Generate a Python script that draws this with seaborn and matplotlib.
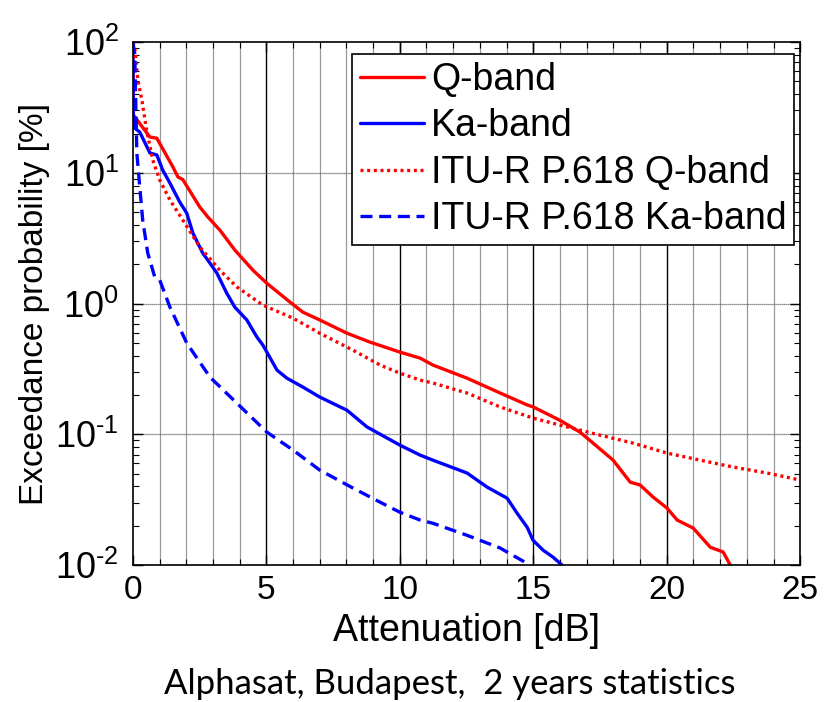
import numpy as np
import pandas as pd
import matplotlib
matplotlib.use("Agg")
import matplotlib.pyplot as plt
import seaborn as sns
from matplotlib.ticker import FixedLocator, LogLocator, NullFormatter, FuncFormatter

# measured Q-band
q_x = [0, 0.02, 0.64, 0.9, 1.5, 1.69, 1.87, 2.51, 2.81, 3.26, 3.82, 4.5, 5.02,
       5.88, 6.37, 7.0, 8.02, 8.88, 10.0, 10.76, 11.24, 12.52, 13.76, 14.77,
       15.0, 16.0, 16.75, 17.24, 17.99, 18.63, 19.0, 19.49, 20.01, 20.39,
       20.99, 21.63, 22.11, 22.38]
q_y = [100, 27.7, 18.8, 18.4, 11.1, 9.3, 8.9, 5.47, 4.6, 3.65, 2.57, 1.8, 1.43,
       1.03, 0.86, 0.75, 0.594, 0.508, 0.426, 0.383, 0.339, 0.269, 0.207,
       0.168, 0.162, 0.128, 0.104, 0.0857, 0.0635, 0.0431, 0.041, 0.0331,
       0.0273, 0.0221, 0.0192, 0.0137, 0.0126, 0.01]

# measured Ka-band
ka_x = [0, 0.02, 0.26, 0.64, 0.9, 1.12, 1.39, 1.76, 2.02, 2.25, 2.62, 2.81,
        3.15, 3.52, 3.82, 4.27, 4.65, 4.87, 5.02, 5.4, 5.77, 6.37, 7.0, 8.02,
        8.77, 10.0, 10.76, 11.24, 12.52, 13.27, 14.02, 14.39, 14.77, 14.99,
        15.37, 15.74, 16.08]
ka_y = [100, 22.4, 20.5, 14.2, 13.7, 10.5, 8.35, 5.97, 4.92, 3.46, 2.43, 2.15,
        1.71, 1.2, 0.94, 0.75, 0.554, 0.482, 0.426, 0.31, 0.269, 0.23, 0.193,
        0.153, 0.114, 0.0828, 0.0694, 0.0635, 0.0506, 0.0395, 0.0325, 0.025,
        0.0195, 0.0155, 0.013, 0.0115, 0.01]

# ITU-R P.618 Q-band
itu_q_x = [0.0, 0.07, 0.19, 0.34, 0.52, 0.75, 1.01, 1.39, 1.87, 2.51, 3.26,
           3.9, 4.87, 6.0, 7.0, 8.25, 9.26, 10.0, 10.76, 11.24, 12.52, 13.76,
           15.0, 16.27, 17.5, 18.74, 20.01, 21.25, 22.49, 23.76, 25.0]
itu_q_y = [100, 91.6, 51, 36, 21, 12.5, 8.8, 6.2, 4.36, 2.71, 1.8, 1.34, 0.975,
           0.774, 0.594, 0.44, 0.339, 0.294, 0.26, 0.247, 0.207, 0.162, 0.133,
           0.114, 0.0986, 0.0857, 0.0719, 0.0635, 0.0562, 0.0506, 0.0447]

# ITU-R P.618 Ka-band
itu_ka_x = [0.0, 0.07, 0.15, 0.26, 0.37, 0.56, 0.82, 1.01, 1.39, 2.02, 2.89,
            3.9, 5.02, 6.0, 7.0, 8.25, 9.26, 10.0, 10.76, 11.24, 12.52, 13.76,
            14.88]
itu_ka_y = [100, 82, 14.2, 7.8, 4.35, 2.43, 1.6, 1.51, 0.94, 0.499, 0.274,
            0.173, 0.104, 0.0759, 0.0533, 0.0388, 0.0303, 0.0254, 0.0221,
            0.0209, 0.0169, 0.0135, 0.01]

series = [
    ("Q-band", q_x, q_y, "#ff0000", "-"),
    ("Ka-band", ka_x, ka_y, "#0000ff", "-"),
    ("ITU-R P.618 Q-band", itu_q_x, itu_q_y, "#ff0000", (0, (0.9, 1.1))),
    ("ITU-R P.618 Ka-band", itu_ka_x, itu_ka_y, "#0000ff", (0, (3.6, 2.0))),
]

sns.set_style("ticks")
plt.rcParams["font.family"] = ["Liberation Sans", "DejaVu Sans"]
plt.rcParams["text.color"] = "black"
plt.rcParams["axes.labelcolor"] = "black"
plt.rcParams["mathtext.fontset"] = "custom"
plt.rcParams["mathtext.rm"] = "Liberation Sans"
plt.rcParams["mathtext.it"] = "Liberation Sans:italic"
plt.rcParams["mathtext.bf"] = "Liberation Sans:bold"

fig = plt.figure(figsize=(8.25, 7.02), dpi=100)
ax = fig.add_axes([0.161, 0.195, 0.809, 0.745])

for name, xs, ys, color, ls in series:
    df = pd.DataFrame({"x": xs, "y": ys})
    sns.lineplot(data=df, x="x", y="y", ax=ax, color=color, linestyle=ls,
                 linewidth=2.4, sort=False, estimator=None, label=name)

ax.set_yscale("log")
ax.set_xlim(0, 25)
ax.set_ylim(1e-2, 1e2)

# grid: gray each dB, black every 5 dB, gray decades
for v in range(1, 25):
    if v % 5 == 0:
        ax.axvline(v, color="black", linewidth=1.0, zorder=0.5)
    else:
        ax.axvline(v, color="#999999", linewidth=0.9, zorder=0.5)
for d in [1e-1, 1e0, 1e1]:
    ax.axhline(d, color="#666666", linewidth=0.9, linestyle=(0, (1, 0.6)),
               zorder=0.5)


def decade_label(v, pos):
    e = int(round(np.log10(v)))
    return r"$10^{\text{%d}}$" % e


ax.xaxis.set_major_locator(FixedLocator([0, 5, 10, 15, 20, 25]))
ax.xaxis.set_minor_locator(FixedLocator(list(range(0, 26))))
ax.yaxis.set_major_locator(LogLocator(base=10, numticks=10))
ax.yaxis.set_major_formatter(FuncFormatter(decade_label))
ax.yaxis.set_minor_locator(LogLocator(base=10, subs=np.arange(2, 10),
                                      numticks=10))
ax.yaxis.set_minor_formatter(NullFormatter())

ax.tick_params(which="both", direction="in", top=True, right=True,
               colors="black")
ax.tick_params(which="major", length=7, width=1)
ax.tick_params(which="minor", length=4, width=0.8)
ax.tick_params(axis="x", pad=7, labelsize=24)
ax.tick_params(axis="y", pad=10, labelsize=26)

for s in ax.spines.values():
    s.set_color("black")
    s.set_linewidth(1.2)
    s.set_visible(True)

ax.set_xlabel("Attenuation [dB]", fontsize=27, labelpad=5)
ax.set_ylabel("Exceedance probability [%]", fontsize=24, labelpad=4)

leg = ax.legend(loc="upper right", bbox_to_anchor=(0.991, 0.977),
                fontsize=27, frameon=True, fancybox=False, handlelength=1.7,
                handletextpad=0.2, borderpad=0.2, labelspacing=0.28,
                borderaxespad=0)
leg.get_frame().set_edgecolor("black")
leg.get_frame().set_linewidth(1.2)
leg.get_frame().set_alpha(1)

fig.text(0.545, 0.025, "Alphasat, Budapest,  2 years statistics",
         ha="center", va="center", fontsize=25, family=["Lato", "DejaVu Sans"])

fig.savefig("out.png", dpi=100)
